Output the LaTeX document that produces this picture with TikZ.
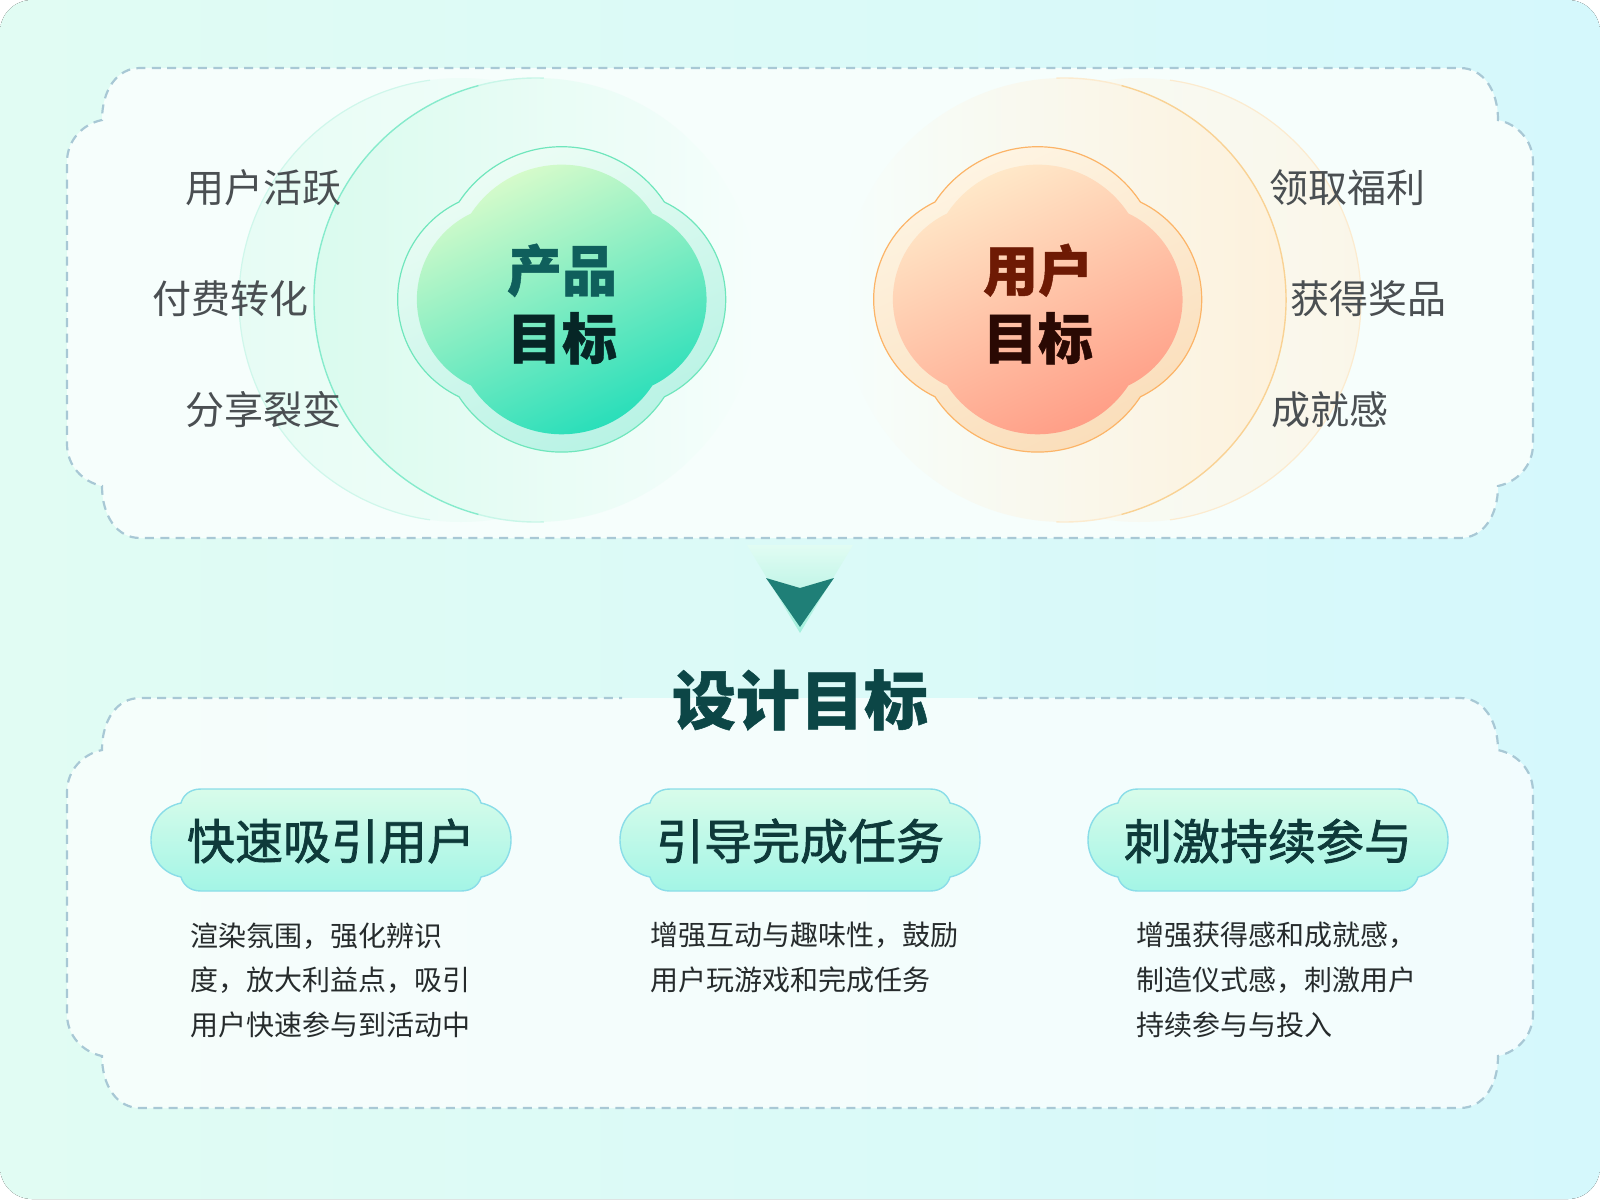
\documentclass[tikz,border=0pt]{standalone}
\usepackage{fontspec}
\setmainfont{Noto Sans CJK SC}
\definecolor{bgmint}{HTML}{E1FCF3}
\definecolor{bgcyan}{HTML}{D5F8FC}
\definecolor{panelwhite}{HTML}{F6FEFC}
\definecolor{dashblue}{HTML}{A8C8D5}
\definecolor{labelgray}{HTML}{4A4F52}
\definecolor{descgray}{HTML}{262B2C}
\definecolor{pillink}{HTML}{0E3A3A}
\definecolor{pilltop}{HTML}{D8FCEA}
\definecolor{pillbot}{HTML}{A3F5E6}
\definecolor{pilledge}{HTML}{8ADDE8}
\definecolor{titleteal}{HTML}{0C4646}
\definecolor{arrowteal}{HTML}{1F7F77}
\definecolor{arrowglow}{HTML}{A2EFDC}
\definecolor{mintwash}{HTML}{DAFBEE}
\definecolor{mintedge}{HTML}{86EBCC}
\definecolor{creamwash}{HTML}{FDF1DC}
\definecolor{creamedge}{HTML}{F9D294}
\definecolor{greenringA}{HTML}{EEFDF5}
\definecolor{greenringB}{HTML}{B6F2E4}
\definecolor{greenedge}{HTML}{6FE6BC}
\definecolor{greenA}{HTML}{DCFCCB}
\definecolor{greenB}{HTML}{22DDB9}
\definecolor{orangeringA}{HTML}{FEF5E4}
\definecolor{orangeringB}{HTML}{FADDB9}
\definecolor{orangeedge}{HTML}{FCB467}
\definecolor{orangeA}{HTML}{FFEBCB}
\definecolor{orangeB}{HTML}{FF9B84}
\definecolor{prodtealA}{HTML}{0F5F5C}
\definecolor{prodtealB}{HTML}{062626}
\definecolor{userbrownA}{HTML}{6E1A04}
\definecolor{userbrownB}{HTML}{2A0903}
\tikzset{
    % dashed outline of the two big panels
    panelline/.style={draw=dashblue, line width=1.1pt, dash pattern=on 4.5pt off 3.2pt},
    % grey words round the two clouds
    sidelabel/.style={font=\fontsize{19.5}{24}\selectfont, text=labelgray, inner sep=0pt},
    % two-line heading inside a cloud
    cloudtext/.style={font=\fontsize{27.5}{34}\selectfont\bfseries\addfontfeatures{FakeBold=0.8},
        align=center, inner sep=0pt},
    % heading inside a pill
    pilltext/.style={font=\fontsize{24}{28}\selectfont\addfontfeatures{FakeBold=1.5},
        text=pillink, inner sep=0pt},
    % body text under a pill
    desc/.style={font=\fontsize{14}{22.3}\selectfont, text=descgray, align=left,
        inner sep=0pt, anchor=north west},
    % pill outline
    pill/.style={draw=pilledge, line width=0.7pt, top color=pilltop, bottom color=pillbot},
}
% panel outline: #1 top, #2 bottom, #3 half gap in the top edge
\newcommand{\panelpath}[3]{(800+#3,#1) -- (1460,#1)
    .. controls (1483,#1) and (1498,#1+22) .. (1498,#1+52)
    .. controls (1517,#1+56) and (1533,#1+72) .. (1533,#1+94)
    -- (1533,#2-94)
    .. controls (1533,#2-72) and (1517,#2-56) .. (1498,#2-52)
    .. controls (1498,#2-22) and (1483,#2) .. (1460,#2)
    -- (140,#2)
    .. controls (117,#2) and (102,#2-22) .. (102,#2-52)
    .. controls (83,#2-56) and (67,#2-72) .. (67,#2-94)
    -- (67,#1+94)
    .. controls (67,#1+72) and (83,#1+56) .. (102,#1+52)
    .. controls (102,#1+22) and (117,#1) .. (140,#1)
    -- (800-#3,#1)}
% four-lobed cloud round the origin
\newcommand{\cloudpath}{(-103,-98)
    arc[start angle=-146.6, end angle=-33.4, radius=123]
    arc[start angle=-64.4, end angle=64.4, radius=108]
    arc[start angle=33.4, end angle=146.6, radius=123]
    arc[start angle=115.6, end angle=244.4, radius=108] -- cycle}
% pill with round side lobes round the origin
\newcommand{\pillpath}{(-130,-51) -- (130,-51)
    .. controls (142,-51) and (148,-44) .. (150,-37)
    .. controls (169,-33) and (180,-18) .. (180,0)
    .. controls (180,18) and (169,33) .. (150,37)
    .. controls (148,44) and (142,51) .. (130,51)
    -- (-130,51)
    .. controls (-142,51) and (-148,44) .. (-150,37)
    .. controls (-169,33) and (-180,18) .. (-180,0)
    .. controls (-180,-18) and (-169,-33) .. (-150,-37)
    .. controls (-148,-44) and (-142,-51) .. (-130,-51) -- cycle}

\begin{document}
\begin{tikzpicture}[x=0.5pt, y=-0.5pt]
    \useasboundingbox (0,0) rectangle (1600,1199);
    \fill[left color=bgmint, right color=bgcyan, rounded corners=16pt] (0,0) rectangle (1600,1199);

    % ---- top panel ----
    \fill[panelwhite] \panelpath{68}{538}{0} -- cycle;

    % halo circles behind the clouds (washed on the outer side only)
    \shade[left color=mintwash!55!panelwhite, right color=panelwhite] (461,300) circle[radius=222];
    \draw[mintedge!40, line width=0.6pt] (461,300) ++(262:222) arc[start angle=262, end angle=98, radius=222];
    \shade[left color=mintwash, right color=panelwhite] (536,300) circle[radius=222];
    \draw[mintedge!45, line width=0.7pt] (536,300) ++(272:222) arc[start angle=272, end angle=255, radius=222];
    \draw[mintedge!45, line width=0.7pt] (536,300) ++(105:222) arc[start angle=105, end angle=88, radius=222];
    \draw[mintedge, line width=0.7pt] (536,300) ++(255:222) arc[start angle=255, end angle=105, radius=222];
    \shade[right color=creamwash!60!panelwhite, left color=panelwhite] (1139,300) circle[radius=222];
    \draw[creamedge!45, line width=0.6pt] (1139,300) ++(-82:222) arc[start angle=-82, end angle=82, radius=222];
    \shade[right color=creamwash, left color=panelwhite] (1064,300) circle[radius=222];
    \draw[creamedge!45, line width=0.7pt] (1064,300) ++(-92:222) arc[start angle=-92, end angle=-75, radius=222];
    \draw[creamedge!45, line width=0.7pt] (1064,300) ++(75:222) arc[start angle=75, end angle=92, radius=222];
    \draw[creamedge, line width=0.7pt] (1064,300) ++(-75:222) arc[start angle=-75, end angle=75, radius=222];

    \path[panelline] \panelpath{68}{538}{0};

    % product cloud
    \path[shift={(562,300)}, top color=greenringA, bottom color=greenringB, shading angle=25,
        draw=greenedge, line width=0.6pt] \cloudpath;
    \path[shift={(562,300)}, scale=0.883, top color=greenA, bottom color=greenB,
        shading angle=25] \cloudpath;
    \node[cloudtext] (prodgoal) at (562,304)
        {\textcolor{prodtealA}{产品}\\\textcolor{prodtealB}{目标}};

    % user cloud
    \path[shift={(1038,300)}, top color=orangeringA, bottom color=orangeringB, shading angle=25,
        draw=orangeedge, line width=0.6pt] \cloudpath;
    \path[shift={(1038,300)}, scale=0.883, top color=orangeA, bottom color=orangeB,
        shading angle=25] \cloudpath;
    \node[cloudtext] (usergoal) at (1038,304)
        {\textcolor{userbrownA}{用户}\\\textcolor{userbrownB}{目标}};

    % words round the clouds
    \node[sidelabel, anchor=east] (lactive) at (342,188) {用户活跃};
    \node[sidelabel, anchor=east] (lpay)    at (309,299) {付费转化};
    \node[sidelabel, anchor=east] (lshare)  at (342,410) {分享裂变};
    \node[sidelabel, anchor=west] (rgift)   at (1269,188) {领取福利};
    \node[sidelabel, anchor=west] (rprize)  at (1290,299) {获得奖品};
    \node[sidelabel, anchor=west] (rpride)  at (1271,410) {成就感};

    % ---- arrow down ----
    \shade[top color=bgmint, bottom color=arrowglow] (747,545) -- (853,545) -- (800,633) -- cycle;
    \fill[arrowteal] (766,578) -- (800,588) -- (834,578) -- (800,627) -- cycle;

    % ---- bottom panel ----
    \fill[white, fill opacity=0.7] \panelpath{698}{1108}{0} -- cycle;
    \path[panelline] \panelpath{698}{1108}{178};
    \node[font=\fontsize{32}{36}\selectfont\bfseries\addfontfeatures{FakeBold=0.8},
        text=titleteal, inner sep=0pt] (designgoal) at (800,700) {设计目标};

    % pills
    \path[pill, shift={(331,840)}] \pillpath;
    \path[pill, shift={(800,840)}] \pillpath;
    \path[pill, shift={(1268,840)}] \pillpath;
    \node[pilltext] (attract) at (331,841) {快速吸引用户};
    \node[pilltext] (guide)   at (800,841) {引导完成任务};
    \node[pilltext] (keep)    at (1268,841) {刺激持续参与};

    \node[desc] (attractdesc) at (190,922)
        {渲染氛围，强化辨识\\度，放大利益点，吸引\\用户快速参与到活动中};
    \node[desc] (guidedesc) at (650,922)
        {增强互动与趣味性，鼓励\\用户玩游戏和完成任务};
    \node[desc] (keepdesc) at (1136,922)
        {增强获得感和成就感，\\制造仪式感，刺激用户\\持续参与与投入};
\end{tikzpicture}
\end{document}
